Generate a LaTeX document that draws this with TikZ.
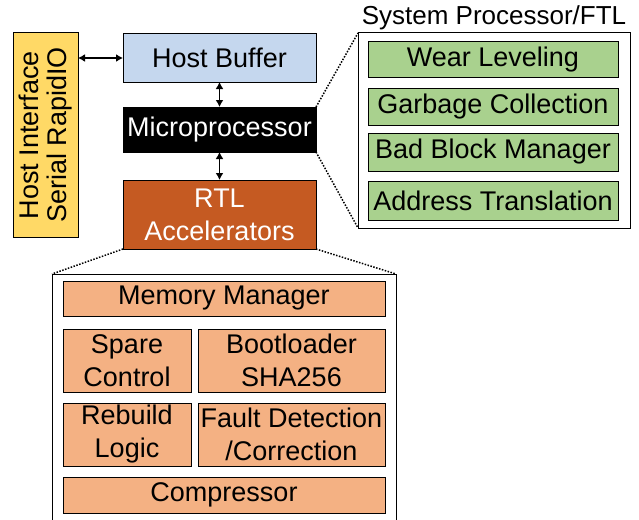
\documentclass[tikz,border=0pt]{standalone}
\usepackage{fontspec}
\setmainfont{Liberation Sans}
\usetikzlibrary{arrows.meta}
\definecolor{hiyellow}{HTML}{FFD966}
\definecolor{hbblue}{HTML}{C5D7EE}
\definecolor{rtlorange}{HTML}{C55A22}
\definecolor{accorange}{HTML}{F4B183}
\definecolor{ftlgreen}{HTML}{A9D18E}
\tikzset{
  blk/.style={draw=black, line width=1pt, inner sep=0pt, outer sep=0pt, align=center,
    font=\fontsize{27}{33}\selectfont},
  frame/.style={draw=black, line width=1pt, inner sep=0pt, outer sep=0pt},
  link/.style={line width=1.5pt, {Latex[length=7pt,width=8pt]}-{Latex[length=7pt,width=8pt]}},
  zoomline/.style={line width=1.5pt, dash pattern=on 1.5pt off 1.5pt},
}
\begin{document}
\begin{tikzpicture}[x=1pt,y=-1pt]
\useasboundingbox (0,0) rectangle (639,519);
% left host interface
\node[blk, fill=hiyellow, minimum width=65pt, minimum height=204pt] (hi) at (45.5,135)
  {\rotatebox{90}{\begin{tabular}{@{}c@{}}Host Interface\\[-5pt]Serial RapidIO\end{tabular}}};
% central column
\node[blk, fill=hbblue, minimum width=193pt, minimum height=48pt] (hb) at (219.5,58) {Host Buffer};
\node[blk, fill=black, text=white, minimum width=193pt, minimum height=45pt] (mp) at (219.5,129.5) {Microprocessor};
\node[blk, fill=rtlorange, text=white, minimum width=193pt, minimum height=69pt] (rtl) at (219.5,214.5) {RTL\\Accelerators};
% arrows
\draw[link] (hi.east |- hb.west) -- (hb.west);
\draw[link] (hb.south) -- (mp.north);
\draw[link] (mp.south) -- (rtl.north);
% system processor / FTL
\node[frame, fill=white, minimum width=272pt, minimum height=195pt] (sys) at (494,130.5) {};
\node[font=\fontsize{26}{30}\selectfont, inner sep=0pt] (systitle) at (494,18) {System Processor/FTL};
\node[blk, fill=ftlgreen, minimum width=250pt, minimum height=35pt] (wl) at (493,59.5) {Wear Leveling};
\node[blk, fill=ftlgreen, minimum width=250pt, minimum height=37pt] (gc) at (493,106.5) {Garbage Collection};
\node[blk, fill=ftlgreen, minimum width=250pt, minimum height=38pt] (bb) at (493,152) {Bad Block Manager};
\node[blk, fill=ftlgreen, minimum width=250pt, minimum height=39pt] (at) at (493,200.5) {Address Translation};
\draw[zoomline] (mp.north east) -- (sys.north west);
\draw[zoomline] (mp.south east) -- (sys.south west);
% accelerators
\coordinate (accnw) at (52,274);
\coordinate (accne) at (396,274);
\draw[frame] (52,530) -- (accnw) -- (accne) -- (396,530);
\node[blk, fill=accorange, minimum width=322pt, minimum height=35pt] (mm) at (224,298.5) {Memory Manager};
\node[blk, fill=accorange, minimum width=128pt, minimum height=63pt] (sc) at (127,360.5) {Spare\\Control};
\node[blk, fill=accorange, minimum width=187pt, minimum height=63pt] (bl) at (291.5,360.5) {Bootloader\\SHA256};
\node[blk, fill=accorange, minimum width=128pt, minimum height=63pt] (rb) at (127,434.5) {Rebuild\\Logic};
\node[blk, fill=accorange, minimum width=187pt, minimum height=63pt] (fd) at (291.5,434.5) {Fault Detection\\/Correction};
\node[blk, fill=accorange, minimum width=322pt, minimum height=36pt] (cp) at (224,495) {Compressor};
\draw[zoomline] (rtl.south west) -- (accnw);
\draw[zoomline] (rtl.south east) -- (accne);
\end{tikzpicture}
\end{document}
